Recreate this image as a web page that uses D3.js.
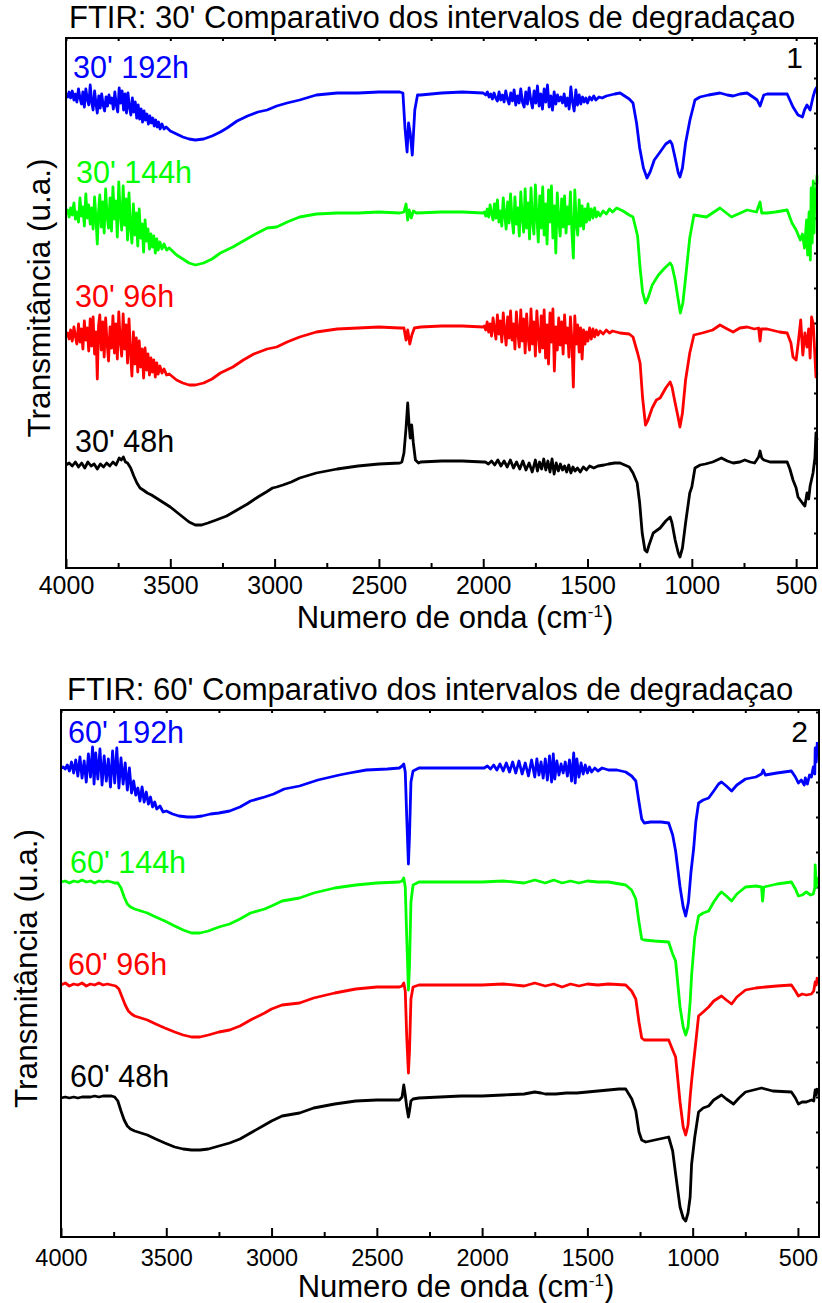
<!DOCTYPE html>
<html>
<head>
<meta charset="utf-8">
<script src="https://cdnjs.cloudflare.com/ajax/libs/d3/7.8.5/d3.min.js"></script>
<style>
body { margin: 0; background: #fff; }
svg { display: block; font-family: "Liberation Sans", Arial, sans-serif; }
.frame { fill: none; stroke: #000; stroke-width: 2; }
.spectrum { fill: none; stroke-width: 2.8; stroke-linejoin: round; }
.axis path { display: none; }
.axis line { stroke: #000; stroke-width: 2; }
</style>
</head>
<body>
<script>
// x axis ticks (wavenumber, cm-1)
var xTicks = [4000, 3500, 3000, 2500, 2000, 1500, 1000, 500];
var xMinor = [3750, 3250, 2750, 2250, 1750, 1250, 750];
var yTicks = [3.5, 7, 10.5, 14, 17.5, 21, 24.5, 28, 31.5, 35, 38.5, 42, 45.5, 49, 52.5];

// ---- panel 1 : 30' ----
var s30_192h = [[4000,47.4],[3992,47.1],[3985,47.6],[3978,47.0],[3970,47.7],[3962,46.8],[3955,47.4],[3948,46.6],[3940,47.9],[3933,47.0],[3926,46.4],[3919,47.6],[3912,46.1],[3905,47.9],[3898,46.9],[3891,46.3],[3884,48.3],[3877,46.6],[3870,45.8],[3863,47.7],[3856,46.4],[3850,45.5],[3843,47.2],[3836,46.0],[3829,47.4],[3822,46.3],[3815,45.7],[3808,47.1],[3801,46.2],[3794,47.3],[3787,46.5],[3780,47.0],[3773,45.9],[3766,47.6],[3759,46.3],[3752,45.6],[3745,48.0],[3738,46.5],[3731,47.7],[3724,45.8],[3717,47.4],[3710,45.5],[3703,47.5],[3696,46.1],[3689,45.3],[3682,47.0],[3675,45.6],[3668,46.6],[3661,45.0],[3654,46.3],[3647,44.9],[3640,45.9],[3633,44.6],[3626,45.7],[3619,44.8],[3612,45.4],[3605,44.4],[3598,45.2],[3591,44.5],[3584,45.0],[3577,44.2],[3570,44.8],[3563,44.1],[3556,44.6],[3549,43.9],[3540,44.4],[3530,43.9],[3520,44.1],[3500,43.7],[3470,43.4],[3440,43.1],[3410,42.9],[3380,42.8],[3340,42.9],[3300,43.2],[3260,43.6],[3228,44.0],[3180,44.7],[3130,45.2],[3080,45.6],[3036,45.8],[2990,46.2],[2940,46.5],[2880,46.8],[2800,47.3],[2700,47.5],[2600,47.5],[2500,47.6],[2400,47.6],[2385,47.5],[2375,44.0],[2365,41.6],[2358,44.5],[2350,43.5],[2340,41.3],[2328,45.8],[2315,47.3],[2300,47.3],[2200,47.5],[2100,47.6],[2000,47.5],
  [1988,47.3],[1980,47.6],[1972,47.1],[1964,47.4],[1956,46.9],[1948,47.5],[1940,47.0],[1932,46.7],[1924,47.6],[1916,46.8],[1908,47.3],[1900,46.6],[1892,47.7],[1884,46.9],[1876,46.4],[1868,47.5],[1860,46.7],[1852,47.8],[1844,46.3],[1836,47.2],[1828,46.5],[1820,47.9],[1812,46.6],[1804,46.1],[1796,47.6],[1788,46.4],[1780,48.0],[1772,46.8],[1764,46.0],[1756,47.7],[1748,46.5],[1740,48.2],[1732,46.2],[1724,47.4],[1716,45.9],[1708,47.9],[1700,46.6],[1692,48.3],[1684,46.1],[1676,47.2],[1668,45.8],[1660,47.6],[1652,46.4],[1644,47.3],[1636,46.7],[1628,47.1],[1620,46.5],[1612,47.4],[1604,46.2],[1596,47.0],[1588,45.9],[1580,48.1],[1572,46.6],[1564,45.7],[1556,47.8],[1548,46.3],[1540,47.3],[1532,46.4],[1524,47.1],[1516,46.6],[1508,47.0],[1500,46.5],[1490,47.1],[1480,46.8],[1470,47.2],[1460,46.8],[1445,47.1],[1430,47.0],[1410,47.2],[1390,47.3],[1370,47.4],[1344,47.5],[1300,46.9],[1282,46.5],[1265,44.5],[1250,42.0],[1232,40.0],[1215,39.0],[1200,39.6],[1180,40.8],[1152,41.6],[1125,42.4],[1104,42.7],[1095,42.4],[1080,41.0],[1065,39.5],[1057,39.1],[1045,40.0],[1030,42.5],[1009,44.8],[985,46.8],[961,47.1],[920,47.3],[865,47.5],[830,47.3],[802,47.2],[770,47.4],[735,47.5],[700,47.0],[687,46.8],[673,46.2],[655,47.3],[639,47.4],[600,47.4],[543,47.4],[515,46.1],[491,45.3],[470,45.1],[460,45.8],[448,46.3],[433,45.8],[419,47.1],[409,47.8],[400,48.1]];

var s30_144h = [[4000,35.5],[3992,35.8],[3985,35.1],[3978,36.0],[3970,35.3],[3962,36.5],[3955,34.9],[3948,35.6],[3940,34.6],[3933,37.0],[3926,35.2],[3919,36.1],[3912,34.2],[3905,37.4],[3898,35.0],[3891,36.3],[3884,34.4],[3877,36.0],[3870,33.9],[3863,37.1],[3856,34.8],[3850,32.4],[3844,35.6],[3838,37.3],[3831,34.1],[3824,36.6],[3817,33.5],[3810,37.9],[3803,35.2],[3796,34.0],[3789,37.0],[3782,33.7],[3775,38.1],[3768,34.9],[3761,36.7],[3754,33.1],[3747,38.6],[3740,35.4],[3733,33.8],[3726,38.2],[3719,34.3],[3712,36.9],[3705,32.8],[3698,37.5],[3691,34.1],[3684,32.5],[3677,36.4],[3670,33.3],[3663,35.5],[3656,32.2],[3649,35.9],[3642,33.0],[3635,34.4],[3628,31.6],[3621,34.8],[3614,32.7],[3607,33.9],[3600,31.9],[3593,33.4],[3586,32.1],[3579,33.2],[3572,31.5],[3565,32.9],[3558,31.8],[3550,32.6],[3540,31.9],[3530,32.4],[3518,31.8],[3505,32.0],[3470,31.3],[3440,30.9],[3410,30.5],[3380,30.3],[3340,30.5],[3300,30.9],[3260,31.5],[3200,32.1],[3150,32.7],[3100,33.3],[3036,34.0],[2990,34.1],[2940,34.6],[2880,35.1],[2800,35.4],[2700,35.5],[2600,35.5],[2500,35.6],[2400,35.5],[2380,35.6],[2370,36.4],[2362,34.8],[2355,35.8],[2345,35.0],[2335,35.7],[2320,35.5],[2200,35.6],[2100,35.6],[2000,35.5],
  [1995,35.6],[1988,35.2],[1981,35.9],[1974,35.1],[1967,36.3],[1960,35.4],[1953,34.8],[1946,36.4],[1939,35.0],[1932,36.8],[1925,34.6],[1918,35.7],[1911,34.2],[1904,37.0],[1897,35.3],[1890,33.9],[1883,36.6],[1876,34.5],[1869,37.4],[1862,35.0],[1855,33.5],[1848,37.1],[1841,34.4],[1834,36.0],[1827,33.2],[1820,37.6],[1813,35.1],[1806,33.6],[1799,37.9],[1792,34.0],[1785,36.5],[1778,32.9],[1771,38.0],[1764,34.7],[1757,33.4],[1750,38.3],[1743,35.2],[1736,32.6],[1729,37.2],[1722,34.0],[1715,38.1],[1708,33.3],[1701,36.4],[1694,32.4],[1687,37.8],[1680,34.6],[1673,38.2],[1666,33.0],[1659,36.2],[1652,31.5],[1645,37.5],[1638,34.8],[1631,33.2],[1624,36.9],[1617,34.1],[1610,37.2],[1603,33.5],[1596,36.1],[1589,34.4],[1582,37.6],[1575,33.7],[1568,31.0],[1561,37.8],[1554,34.5],[1547,33.3],[1540,36.8],[1533,34.2],[1526,36.2],[1519,33.9],[1512,35.9],[1505,34.6],[1498,36.4],[1490,34.8],[1482,35.9],[1474,35.0],[1466,36.0],[1458,35.1],[1450,35.6],[1440,35.2],[1425,35.7],[1410,35.4],[1395,35.9],[1380,35.6],[1360,36.0],[1330,35.7],[1300,35.3],[1282,35.1],[1260,33.2],[1248,30.0],[1236,27.6],[1222,26.5],[1210,27.0],[1190,28.3],[1160,29.3],[1130,30.0],[1104,30.5],[1095,30.2],[1080,28.8],[1065,26.8],[1055,25.5],[1043,26.5],[1030,29.0],[1010,33.0],[990,35.3],[960,35.2],[930,35.1],[865,36.0],[810,35.1],[735,35.8],[690,35.6],[673,36.6],[665,35.5],[639,35.5],[600,35.6],[543,35.8],[520,34.5],[500,33.8],[480,32.8],[470,33.4],[460,32.0],[450,34.8],[445,31.3],[438,35.6],[432,30.8],[428,38.0],[423,32.5],[418,38.7],[414,33.5],[410,37.8],[405,36.0],[400,39.3]];

var s30_96h = [[4000,23.1],[3992,23.5],[3985,22.9],[3978,23.8],[3970,22.7],[3962,24.1],[3955,23.2],[3948,22.4],[3940,24.4],[3933,22.6],[3926,23.9],[3919,21.9],[3912,24.7],[3905,22.8],[3898,24.0],[3891,21.7],[3884,24.9],[3877,22.2],[3870,25.1],[3863,21.4],[3856,23.6],[3850,18.9],[3844,24.2],[3838,25.3],[3831,21.8],[3824,24.6],[3817,21.1],[3810,25.0],[3803,22.5],[3796,20.7],[3789,24.1],[3782,22.0],[3775,25.2],[3768,21.5],[3761,24.4],[3754,20.9],[3747,25.6],[3740,22.7],[3733,21.2],[3726,25.4],[3719,21.9],[3712,24.3],[3705,20.5],[3698,24.9],[3691,21.6],[3684,19.2],[3677,23.6],[3670,20.4],[3663,23.0],[3656,19.6],[3649,22.7],[3642,20.1],[3635,21.9],[3628,19.0],[3621,22.0],[3614,19.8],[3607,21.4],[3600,19.3],[3593,21.0],[3586,19.6],[3579,20.8],[3572,19.1],[3565,20.5],[3558,19.4],[3550,20.2],[3540,19.5],[3530,19.9],[3518,19.3],[3505,19.4],[3470,18.8],[3440,18.5],[3410,18.3],[3380,18.3],[3340,18.5],[3300,18.9],[3260,19.5],[3200,20.1],[3150,20.8],[3100,21.4],[3036,21.9],[2990,22.1],[2940,22.6],[2880,23.1],[2800,23.6],[2700,23.9],[2600,24.0],[2500,24.1],[2400,24.0],[2380,24.0],[2370,22.8],[2362,23.8],[2352,22.4],[2342,23.3],[2330,24.0],[2300,24.1],[2200,24.2],[2100,24.2],[2000,24.1],
  [1995,24.2],[1988,23.8],[1981,24.6],[1974,23.6],[1967,24.4],[1960,23.2],[1953,25.0],[1946,23.9],[1939,22.9],[1932,25.3],[1925,23.4],[1918,24.7],[1911,22.6],[1904,25.5],[1897,23.7],[1890,22.3],[1883,25.1],[1876,23.0],[1869,25.7],[1862,22.8],[1855,24.4],[1848,21.9],[1841,25.6],[1834,23.5],[1827,22.1],[1820,25.8],[1813,22.7],[1806,24.9],[1799,21.5],[1792,25.4],[1785,23.1],[1778,21.8],[1771,25.9],[1764,22.4],[1757,24.6],[1750,21.2],[1743,25.7],[1736,23.3],[1729,21.6],[1722,25.2],[1715,22.0],[1708,25.8],[1701,21.0],[1694,24.3],[1687,20.4],[1680,25.5],[1673,22.6],[1666,25.9],[1659,19.7],[1652,24.1],[1645,21.8],[1638,25.0],[1631,22.3],[1624,24.6],[1617,21.4],[1610,25.3],[1603,22.5],[1596,24.0],[1589,21.1],[1582,25.1],[1575,22.8],[1568,18.1],[1561,25.2],[1554,22.4],[1547,24.3],[1540,21.6],[1533,24.0],[1526,20.9],[1519,23.8],[1512,22.4],[1505,23.6],[1498,22.7],[1490,24.0],[1482,22.9],[1474,23.9],[1466,23.1],[1458,23.8],[1450,23.3],[1440,23.7],[1425,23.4],[1410,23.8],[1395,23.5],[1380,23.7],[1344,23.5],[1300,23.4],[1282,23.1],[1260,21.5],[1248,20.5],[1236,17.0],[1222,14.3],[1210,14.8],[1190,16.0],[1170,16.8],[1152,17.0],[1125,18.0],[1104,18.6],[1095,18.1],[1080,16.5],[1065,15.0],[1057,14.1],[1045,15.5],[1030,18.8],[1010,21.5],[990,23.3],[950,23.5],[900,23.8],[865,24.3],[830,23.9],[802,23.6],[770,24.0],[735,24.1],[700,23.9],[680,24.0],[673,22.7],[667,23.9],[639,23.9],[580,23.6],[543,23.5],[525,22.5],[515,21.1],[500,20.8],[490,22.5],[478,24.8],[468,21.3],[458,23.5],[448,22.1],[440,23.9],[433,21.0],[426,25.1],[418,24.4],[412,22.0],[405,19.1],[400,19.5]];

var s30_48h = [[4000,10.3],[3985,10.5],[3970,10.2],[3955,10.6],[3940,10.1],[3925,10.5],[3910,10.0],[3895,10.6],[3880,10.2],[3865,10.4],[3850,9.9],[3835,10.4],[3820,10.1],[3805,10.5],[3790,10.2],[3775,10.6],[3760,10.3],[3745,11.0],[3735,10.8],[3725,11.1],[3715,10.6],[3705,10.5],[3690,10.0],[3675,9.2],[3660,8.5],[3645,8.0],[3630,7.8],[3610,7.5],[3590,7.3],[3560,6.9],[3530,6.5],[3500,6.1],[3470,5.6],[3440,5.1],[3410,4.6],[3380,4.3],[3350,4.3],[3320,4.5],[3280,4.8],[3230,5.2],[3180,5.8],[3130,6.4],[3080,7.1],[3040,7.6],[3010,8.0],[2990,8.1],[2960,8.3],[2920,8.6],[2880,9.0],[2800,9.5],[2700,9.9],[2600,10.2],[2500,10.4],[2400,10.5],[2390,10.6],[2380,11.5],[2370,14.0],[2362,16.5],[2356,14.5],[2350,13.0],[2343,14.3],[2335,12.5],[2325,10.8],[2310,10.5],[2300,10.6],[2200,10.7],[2100,10.7],[2000,10.6],
  [1990,10.6],[1975,10.4],[1960,10.7],[1945,10.3],[1930,10.8],[1915,10.2],[1900,10.7],[1885,10.1],[1870,10.8],[1855,10.0],[1840,10.6],[1825,9.9],[1810,10.7],[1795,9.8],[1780,10.5],[1765,9.6],[1750,10.8],[1740,9.7],[1730,10.6],[1720,9.9],[1710,10.9],[1700,9.8],[1690,10.7],[1680,9.6],[1670,10.9],[1660,9.4],[1650,10.5],[1640,9.7],[1630,10.4],[1620,9.8],[1610,10.2],[1600,9.6],[1590,10.3],[1580,9.5],[1570,10.1],[1560,9.7],[1548,10.0],[1535,9.6],[1520,10.1],[1505,9.8],[1490,10.2],[1470,10.0],[1450,10.2],[1420,10.3],[1400,10.4],[1370,10.5],[1344,10.5],[1300,10.1],[1282,9.5],[1262,8.5],[1250,6.5],[1238,3.5],[1225,1.8],[1215,1.6],[1205,2.3],[1185,3.5],[1152,4.0],[1125,4.7],[1104,5.1],[1095,4.5],[1080,2.8],[1065,1.5],[1057,1.1],[1045,2.0],[1030,4.5],[1010,7.5],[1000,8.1],[985,10.0],[960,10.3],[935,10.4],[900,10.6],[858,11.0],[830,10.7],[802,10.5],[770,10.6],[746,10.8],[720,10.6],[699,10.5],[680,11.1],[673,11.7],[665,11.0],[655,10.8],[625,10.6],[580,10.6],[543,10.6],[530,9.9],[515,8.8],[500,8.0],[491,7.1],[470,6.5],[458,6.2],[448,7.5],[440,6.9],[433,8.2],[419,9.5],[410,11.0],[405,13.5],[400,12.8]];

// ---- panel 2 : 60' ----
var s60_192h = [[4000,46.9],[3990,47.0],[3980,46.8],[3970,47.2],[3960,46.6],[3950,47.5],[3940,46.4],[3930,47.7],[3920,46.1],[3910,48.0],[3900,45.9],[3890,47.6],[3880,45.5],[3870,48.3],[3860,46.0],[3850,49.0],[3843,45.3],[3835,48.4],[3825,45.8],[3815,48.8],[3805,45.2],[3795,48.1],[3785,45.6],[3775,47.8],[3765,45.0],[3755,48.6],[3745,45.4],[3735,48.9],[3725,44.9],[3715,47.9],[3705,45.3],[3695,47.4],[3685,44.7],[3675,46.9],[3665,44.4],[3655,45.6],[3645,44.2],[3635,44.9],[3625,43.6],[3615,45.0],[3605,43.5],[3595,44.5],[3585,43.3],[3575,44.0],[3565,43.0],[3555,43.5],[3545,42.8],[3530,43.1],[3515,42.5],[3500,42.6],[3470,42.3],[3440,42.1],[3400,42.0],[3365,42.0],[3330,42.1],[3290,42.3],[3250,42.4],[3199,42.6],[3150,43.0],[3100,43.6],[3033,44.0],[2990,44.3],[2940,44.8],[2867,45.1],[2780,45.7],[2678,46.2],[2630,46.4],[2550,46.7],[2450,46.8],[2393,46.9],[2380,47.1],[2372,47.3],[2365,46.5],[2358,42.0],[2350,37.3],[2345,40.0],[2338,45.5],[2328,46.6],[2300,46.9],[2200,46.9],[2100,46.9],[2000,46.9],
  [1990,46.9],[1975,47.1],[1960,46.8],[1945,47.2],[1930,46.7],[1915,47.3],[1900,46.6],[1885,47.4],[1870,46.5],[1855,47.5],[1840,46.4],[1825,47.6],[1810,46.3],[1795,47.4],[1780,46.1],[1765,47.7],[1750,46.0],[1740,47.8],[1730,46.2],[1720,47.5],[1710,45.9],[1700,47.8],[1690,45.7],[1680,48.1],[1670,45.5],[1662,48.3],[1655,45.8],[1645,47.6],[1635,46.2],[1625,47.3],[1615,46.4],[1605,47.5],[1595,46.1],[1585,47.7],[1575,45.6],[1565,48.4],[1558,45.4],[1550,47.8],[1540,46.0],[1530,47.4],[1520,46.3],[1510,47.2],[1500,46.4],[1490,47.0],[1480,46.5],[1465,46.9],[1450,46.6],[1430,46.9],[1400,46.7],[1360,46.7],[1318,46.5],[1290,46.1],[1270,45.6],[1255,43.5],[1242,41.8],[1230,41.4],[1200,41.5],[1150,41.5],[1114,41.4],[1095,40.2],[1081,38.6],[1060,35.0],[1045,33.0],[1033,32.1],[1020,33.5],[1008,36.5],[995,38.9],[985,41.5],[972,43.4],[950,43.7],[924,43.9],[900,44.6],[877,45.3],[863,45.5],[840,45.1],[815,44.6],[790,45.2],[749,45.8],[700,46.0],[673,46.3],[665,46.7],[655,46.2],[600,46.4],[531,46.6],[512,46.0],[498,45.4],[484,45.7],[470,45.2],[465,45.9],[455,45.3],[445,46.2],[436,46.0],[427,47.0],[420,46.3],[418,48.9],[413,47.5],[408,49.5]];

var s60_144h = [[4000,35.5],[3980,35.6],[3960,35.4],[3940,35.6],[3920,35.5],[3900,35.7],[3880,35.5],[3860,35.6],[3840,35.4],[3820,35.6],[3800,35.5],[3780,35.6],[3760,35.5],[3745,35.4],[3730,35.4],[3715,34.9],[3700,34.0],[3685,33.3],[3670,33.0],[3650,32.8],[3620,32.6],[3590,32.4],[3550,32.0],[3507,31.6],[3460,31.1],[3420,30.7],[3380,30.4],[3340,30.4],[3300,30.6],[3250,31.0],[3199,31.3],[3150,31.8],[3100,32.4],[3033,32.8],[3000,33.1],[2950,33.6],[2867,33.9],[2800,34.4],[2700,34.9],[2600,35.2],[2500,35.4],[2393,35.5],[2380,35.6],[2372,35.9],[2365,35.0],[2358,30.0],[2350,24.7],[2345,27.0],[2338,33.5],[2328,35.2],[2300,35.5],[2200,35.5],[2100,35.5],[2000,35.5],
  [1900,35.6],[1800,35.4],[1750,35.7],[1700,35.4],[1660,35.7],[1620,35.4],[1580,35.6],[1540,35.4],[1500,35.6],[1450,35.5],[1400,35.5],[1318,35.2],[1290,34.7],[1270,33.8],[1255,31.5],[1242,29.8],[1230,29.7],[1180,29.6],[1114,29.5],[1095,28.3],[1081,27.6],[1060,23.0],[1045,21.0],[1033,20.2],[1022,21.0],[1012,23.5],[1005,26.2],[990,30.0],[972,32.1],[950,32.4],[924,32.6],[900,33.5],[877,34.2],[863,34.5],[840,34.1],[815,33.6],[790,34.3],[749,35.0],[700,35.1],[673,35.0],[668,33.6],[662,35.0],[600,35.3],[531,35.5],[512,34.8],[498,34.1],[480,34.2],[460,34.5],[440,34.2],[427,34.3],[420,34.9],[418,37.2],[413,35.0],[408,36.0]];

var s60_96h = [[4000,25.2],[3980,25.4],[3960,25.1],[3940,25.3],[3920,25.2],[3900,25.4],[3880,25.1],[3860,25.3],[3840,25.2],[3820,25.4],[3800,25.2],[3780,25.3],[3760,25.2],[3740,25.1],[3725,24.8],[3710,24.0],[3695,23.2],[3680,22.6],[3665,22.3],[3650,22.1],[3620,21.9],[3590,21.7],[3550,21.3],[3507,20.9],[3460,20.5],[3420,20.2],[3380,20.0],[3340,20.0],[3300,20.2],[3250,20.5],[3199,20.7],[3150,21.1],[3100,21.7],[3033,22.4],[3000,22.8],[2950,23.2],[2867,23.4],[2800,23.9],[2700,24.4],[2600,24.8],[2500,25.0],[2393,25.0],[2380,25.1],[2372,25.4],[2365,24.6],[2358,20.0],[2350,16.4],[2345,18.5],[2338,23.8],[2328,25.0],[2300,25.2],[2200,25.2],[2000,25.2],
  [1900,25.3],[1800,25.1],[1750,25.4],[1700,25.1],[1660,25.3],[1620,25.0],[1580,25.3],[1540,25.1],[1500,25.3],[1450,25.2],[1400,25.3],[1318,25.2],[1290,24.6],[1270,23.8],[1255,21.5],[1242,19.9],[1230,19.7],[1180,19.7],[1114,19.7],[1095,18.7],[1081,18.0],[1060,13.5],[1045,11.0],[1033,10.2],[1022,11.2],[1012,14.0],[1005,15.6],[995,17.6],[985,19.5],[972,22.1],[950,22.5],[924,23.0],[900,23.6],[863,24.1],[840,23.7],[815,23.3],[790,24.0],[749,24.7],[700,24.9],[654,25.0],[600,25.1],[531,25.2],[512,24.6],[498,24.1],[480,24.3],[460,24.2],[436,24.3],[425,24.6],[418,25.5],[413,25.2],[408,26.0]];

var s60_48h = [[4000,13.9],[3980,14.0],[3960,13.9],[3940,14.0],[3920,13.9],[3900,14.0],[3880,14.0],[3860,14.0],[3840,14.1],[3820,14.0],[3800,14.1],[3780,14.1],[3760,14.1],[3745,14.0],[3730,13.6],[3715,12.6],[3700,11.7],[3685,11.1],[3670,10.8],[3650,10.6],[3620,10.4],[3590,10.2],[3550,9.8],[3507,9.4],[3460,9.0],[3420,8.8],[3380,8.7],[3340,8.7],[3300,8.8],[3250,9.1],[3199,9.4],[3150,9.8],[3100,10.4],[3033,11.2],[3000,11.6],[2950,12.1],[2867,12.4],[2800,12.9],[2700,13.3],[2600,13.6],[2500,13.7],[2393,13.7],[2380,14.0],[2372,15.2],[2365,14.2],[2358,13.0],[2350,12.0],[2345,12.6],[2338,13.6],[2328,13.8],[2300,13.9],[2200,14.0],[2100,14.1],[2000,14.1],
  [1900,14.2],[1800,14.3],[1750,14.5],[1720,14.4],[1700,14.3],[1650,14.3],[1600,14.4],[1550,14.4],[1500,14.5],[1450,14.6],[1400,14.7],[1350,14.8],[1318,14.8],[1289,13.8],[1270,12.6],[1255,10.5],[1242,9.7],[1223,9.5],[1180,9.7],[1114,10.0],[1095,8.6],[1081,6.3],[1060,3.0],[1045,1.9],[1033,1.6],[1022,2.4],[1012,4.0],[1005,7.3],[990,10.0],[972,12.5],[950,12.9],[924,13.1],[900,13.7],[863,14.2],[840,13.8],[806,13.3],[780,13.9],[749,14.5],[673,14.9],[620,14.6],[531,14.5],[512,13.9],[498,13.3],[480,13.5],[460,13.5],[436,13.7],[425,13.6],[418,14.7],[413,14.2],[408,14.9]];

var panels = [
    { title: "FTIR: 30' Comparativo dos intervalos de degradaçao", tag: "1",
      left: 66, right: 817, top: 38, bottom: 568, yMax: 53,
      titleX: 69, titleY: 28, tagX: 803, tagY: 68, tickPad: 8, tickFont: 25,
      xLabelX: 455, xLabelY: 628, yLabelX: 50,
      series: [
        { name: "30' 192h", color: "#0000ff", data: s30_192h, lx: 73, ly: 78 },
        { name: "30' 144h", color: "#00ff00", data: s30_144h, lx: 76, ly: 183 },
        { name: "30' 96h",  color: "#ff0000", data: s30_96h,  lx: 75, ly: 307 },
        { name: "30' 48h",  color: "#000000", data: s30_48h,  lx: 75, ly: 452 }
      ] },
    { title: "FTIR: 60' Comparativo dos intervalos de degradaçao", tag: "2",
      left: 61, right: 819, top: 710, bottom: 1237, yMax: 52.7,
      titleX: 67, titleY: 700, tagX: 808, tagY: 742, tickPad: 12, tickFont: 23.5,
      xLabelX: 456, xLabelY: 1297, yLabelX: 37,
      series: [
        { name: "60' 192h", color: "#0000ff", data: s60_192h, lx: 68, ly: 743 },
        { name: "60' 144h", color: "#00ff00", data: s60_144h, lx: 70, ly: 873 },
        { name: "60' 96h",  color: "#ff0000", data: s60_96h,  lx: 68, ly: 975 },
        { name: "60' 48h",  color: "#000000", data: s60_48h,  lx: 70, ly: 1087 }
      ] }
];

var svg = d3.select("body").append("svg")
    .attr("width", 822)
    .attr("height", 1303);

function drawPanel(p) {
    var x = d3.scaleLinear().domain([4000, 400]).range([p.left, p.right]);
    var y = d3.scaleLinear().domain([0, p.yMax]).range([p.bottom, p.top]);
    var g = svg.append("g");

    // bottom axis, ticks pointing in
    g.append("g").attr("class", "axis")
        .attr("transform", "translate(0," + p.bottom + ")")
        .call(d3.axisBottom(x).tickValues(xTicks).tickSize(-9).tickSizeOuter(0)
            .tickPadding(p.tickPad).tickFormat(d3.format("d")))
        .selectAll("text")
        .attr("font-size", p.tickFont)
        .attr("font-family", "Liberation Sans, Arial, sans-serif")
        .attr("fill", "#000");

    g.append("g").attr("class", "axis")
        .attr("transform", "translate(0," + p.bottom + ")")
        .call(d3.axisBottom(x).tickValues(xMinor).tickSize(-5).tickSizeOuter(0).tickFormat(""));

    // small mirror ticks on top and right
    g.append("g").attr("class", "axis")
        .attr("transform", "translate(0," + p.top + ")")
        .call(d3.axisTop(x).tickValues(xTicks.concat(xMinor)).tickSize(-3).tickSizeOuter(0).tickFormat(""));

    g.append("g").attr("class", "axis")
        .attr("transform", "translate(" + p.right + ",0)")
        .call(d3.axisRight(y).tickValues(yTicks).tickSize(-3).tickSizeOuter(0).tickFormat(""));

    var line = d3.line()
        .x(function(d) { return x(d[0]); })
        .y(function(d) { return y(d[1]); });

    p.series.forEach(function(s) {
        g.append("path")
            .datum(s.data)
            .attr("class", "spectrum")
            .attr("stroke", s.color)
            .attr("d", line);
        g.append("text")
            .attr("x", s.lx).attr("y", s.ly)
            .attr("font-size", 30.5)
            .attr("fill", s.color)
            .text(s.name);
    });

    // frame
    g.append("rect").attr("class", "frame")
        .attr("x", p.left).attr("y", p.top)
        .attr("width", p.right - p.left).attr("height", p.bottom - p.top);

    g.append("text")
        .attr("x", p.titleX).attr("y", p.titleY)
        .attr("font-size", 31)
        .text(p.title);

    g.append("text")
        .attr("x", p.tagX).attr("y", p.tagY)
        .attr("text-anchor", "end")
        .attr("font-size", 30)
        .text(p.tag);

    // x label with superscript
    var xl = g.append("text")
        .attr("x", p.xLabelX).attr("y", p.xLabelY)
        .attr("text-anchor", "middle")
        .attr("font-size", 31);
    xl.append("tspan").text("Numero de onda (cm");
    xl.append("tspan").attr("font-size", 17).attr("dy", -11).text("-1");
    xl.append("tspan").attr("dy", 11).text(")");

    g.append("text")
        .attr("transform", "translate(" + p.yLabelX + "," + ((p.top + p.bottom) / 2 - 5) + ") rotate(-90)")
        .attr("text-anchor", "middle")
        .attr("font-size", 31.5)
        .text("Transmitância (u.a.)");
}

panels.forEach(drawPanel);
</script>
</body>
</html>
